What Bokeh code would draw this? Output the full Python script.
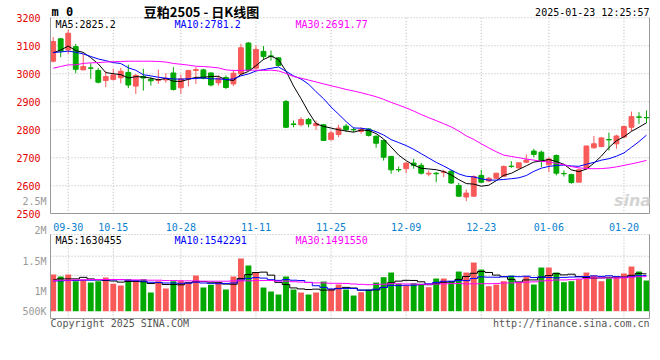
import numpy as np
import pandas as pd
from bokeh.plotting import figure
from bokeh.models import ColumnDataSource, FixedTicker, Label, Range1d, LinearAxis
from bokeh.embed import file_html
from bokeh.resources import INLINE

dates = ["09-26", "09-27", "09-30",
         "10-08", "10-09", "10-10", "10-11", "10-14", "10-15", "10-16", "10-17", "10-18",
         "10-21", "10-22", "10-23", "10-24", "10-25", "10-28", "10-29", "10-30", "10-31",
         "11-01", "11-04", "11-05", "11-06", "11-07", "11-08", "11-11", "11-12", "11-13",
         "11-14", "11-15", "11-18", "11-19", "11-20", "11-21", "11-22", "11-25", "11-26",
         "11-27", "11-28", "11-29",
         "12-02", "12-03", "12-04", "12-05", "12-06", "12-09", "12-10", "12-11", "12-12",
         "12-13", "12-16", "12-17", "12-18", "12-19", "12-20", "12-23", "12-24", "12-25",
         "12-26", "12-27", "12-30", "12-31",
         "01-02", "01-03", "01-06", "01-07", "01-08", "01-09", "01-10", "01-13", "01-14",
         "01-15", "01-16", "01-17", "01-20", "01-21", "01-22", "01-23"]

opens = [3045, 3125, 3085, 3097, 3014, 3021, 3012, 2976, 2980, 2986,
         3005, 2956, 2990, 2980, 2976, 2978, 3003, 2950, 2981, 3012,
         3014, 3003, 2968, 2987, 2964, 3000, 3110, 3020, 3080, 3064,
         3057, 2901, 2821, 2818, 2837, 2815, 2818, 2765, 2783, 2813,
         2801, 2794, 2803, 2777, 2762, 2705, 2658, 2661, 2681, 2673,
         2642, 2645, 2648, 2652, 2601, 2560, 2563, 2637, 2617, 2627,
         2634, 2670, 2664, 2684, 2724, 2720, 2675, 2708, 2644, 2640,
         2613, 2661, 2736, 2740, 2765, 2750, 2774, 2809, 2846, 2844]
highs = [3131, 3128, 3158, 3107, 3071, 3038, 3021, 3009, 3018, 3021,
         3032, 3000, 3018, 2988, 3015, 3002, 3024, 2997, 3014, 3024,
         3018, 3005, 2994, 2994, 3014, 3107, 3113, 3101, 3099, 3083,
         3059, 2907, 2833, 2845, 2843, 2833, 2821, 2797, 2818, 2821,
         2809, 2809, 2806, 2780, 2764, 2705, 2669, 2684, 2696, 2682,
         2655, 2649, 2657, 2657, 2610, 2587, 2637, 2657, 2631, 2646,
         2673, 2688, 2684, 2712, 2732, 2726, 2702, 2712, 2655, 2643,
         2661, 2744, 2778, 2774, 2790, 2782, 2815, 2865, 2863, 2869]
lows = [3041, 3059, 3071, 3002, 3014, 2982, 2966, 2952, 2976, 2966,
        2949, 2928, 2940, 2958, 2964, 2968, 2940, 2928, 2955, 2964,
        2980, 2955, 2958, 2946, 2956, 2994, 3010, 3018, 3050, 3047,
        3026, 2806, 2809, 2812, 2809, 2800, 2762, 2762, 2774, 2792,
        2792, 2786, 2776, 2736, 2690, 2643, 2649, 2645, 2661, 2640,
        2634, 2613, 2631, 2607, 2560, 2545, 2560, 2610, 2613, 2625,
        2631, 2664, 2661, 2681, 2702, 2667, 2649, 2637, 2633, 2607,
        2613, 2657, 2732, 2738, 2726, 2732, 2771, 2795, 2821, 2824]
closes = [3115, 3081, 3145, 3016, 3026, 3020, 2970, 2990, 2996, 3009,
          2960, 2994, 2985, 2975, 2979, 2984, 2944, 2982, 3012, 3015,
          2984, 2960, 2984, 2951, 3002, 3093, 3012, 3087, 3062, 3062,
          3030, 2809, 2819, 2837, 2821, 2822, 2762, 2789, 2806, 2800,
          2800, 2801, 2780, 2752, 2702, 2657, 2657, 2681, 2673, 2645,
          2645, 2643, 2650, 2610, 2563, 2574, 2633, 2613, 2627, 2645,
          2669, 2669, 2682, 2692, 2712, 2688, 2696, 2645, 2643, 2612,
          2657, 2742, 2750, 2771, 2764, 2778, 2812, 2847, 2845, 2843]
volumes = [1600500, 1513200, 1600500, 1309500, 1367700, 1251300, 1309500, 1469550, 1193100, 1120350,
           1396800, 1309500, 1396800, 814800, 1309500, 989400, 1309500, 1338600, 1251300, 1556850,
           1033050, 1149450, 1236750, 945750, 1513200, 2298900, 1993350, 1687800, 1033050, 858450,
           727500, 1513200, 945750, 814800, 727500, 814800, 1294950, 974850, 1164000, 945750,
           683850, 829350, 945750, 1251300, 1484100, 1687800, 1193100, 1120350, 1222200, 1193100,
           1047600, 1425900, 1425900, 1309500, 1731450, 1687800, 2124300, 1818750, 1091250, 1164000,
           1309500, 1556850, 1265850, 1527750, 1164000, 1906050, 1906050, 1687800, 1265850, 1309500,
           1396800, 1687800, 1556850, 1309500, 1440450, 1484100, 1644150, 1949700, 1731450, 1338600]

# moving-average values before enough history is visible
ma5_head = [3075, 3085, 3099, 3083]
ma10_head = [3076, 3078, 3081, 3077, 3071, 3062, 3053, 3047, 3040]
ma30_head = [3020, 3026, 3032, 3032, 3037, 3039, 3040, 3042, 3043, 3044,
             3045, 3045, 3045, 3045, 3044, 3042, 3037, 3034, 3031, 3027,
             3026, 3024, 3021, 3014, 3012, 3012, 3013, 3013, 3012]
vol_ma5_head = [1367700, 1411350, 1411350, 1411350]
vol_ma10_head = [1324050, 1324050, 1338600, 1338600, 1353150, 1353150, 1367700, 1367700, 1367700]
vol_ma30_head = [1338600, 1353150, 1353150, 1367700, 1367700, 1382250, 1382250, 1382250, 1382250, 1382250,
                 1367700, 1367700, 1367700, 1353150, 1353150, 1338600, 1338600, 1324050, 1324050, 1324050,
                 1309500, 1309500, 1309500, 1309500, 1324050, 1324050, 1324050, 1338600, 1338600]

tick_dates = ["09-30", "10-15", "10-28", "11-11", "11-25", "12-09", "12-23", "01-06", "01-20"]
price_ticks = [2500, 2600, 2700, 2800, 2900, 3000, 3100, 3200]
vol_grid = [1558000, 2400000]
ma_legend = ["MA5:2825.2", "MA10:2781.2", "MA30:2691.77"]
vol_legend = ["MA5:1630455", "MA10:1542291", "MA30:1491550"]
vol_axis_labels = ["2.5M", "2M", "1.5M", "1M", "500K"]

# ---------- styling / layout constants ----------
W, H = 656, 350
RED = "#f85a5a"
GREEN = "#00a800"
AX = "#999999"
GRID = "#b4b4b4"
FONT = "DejaVu Sans Mono"
MA_COLORS = ["#000000", "#0000ff", "#ff00ff"]
C0, CS = 52.7, 7.51          # page x of first candle, px per trading day
PB, PPU = 213.3, 0.28        # page y of price 2500, px per price unit
VB, VPP = 310.7, 43650.0     # page y of zero volume, volume per px

df = pd.DataFrame(dict(x=np.arange(len(dates)), open=opens, high=highs, low=lows,
                       close=closes, vol=volumes))
df["color"] = np.where(df.close >= df.open, RED, GREEN)
df["top"] = df[["open", "close"]].max(axis=1)
df["bottom"] = df[["open", "close"]].min(axis=1)


def moving(series, n, head):
    m = series.astype(float).rolling(n).mean()
    m.iloc[:n - 1] = head
    return m


df["ma5"] = moving(df.close, 5, ma5_head)
df["ma10"] = moving(df.close, 10, ma10_head)
df["ma30"] = moving(df.close, 30, ma30_head)
df["vma5"] = moving(df.vol, 5, vol_ma5_head)
df["vma10"] = moving(df.vol, 10, vol_ma10_head)
df["vma30"] = moving(df.vol, 30, vol_ma30_head)
src = ColumnDataSource(df)

tick_idx = [dates.index(d) for d in tick_dates]

xr = Range1d(-C0 / CS, (W - C0) / CS)
yr = Range1d(price_ticks[0] - (H - PB) / PPU, price_ticks[0] + PB / PPU)
vr = Range1d(-(H - VB) * VPP, VB * VPP)
x_left, x_right = (50 - C0) / CS, (649 - C0) / CS
p_lo, p_hi = price_ticks[0], price_ticks[-1]
v_lo, v_hi = -(318 - VB) * VPP, (VB - 234) * VPP

p = figure(width=W, height=H, x_range=xr, y_range=yr, output_backend="svg",
           toolbar_location=None, x_axis_location=None, y_axis_location=None,
           min_border_left=0, min_border_right=0, min_border_top=0, min_border_bottom=0)
p.extra_y_ranges = {"vol": vr}
p.outline_line_color = None
p.grid.visible = False
p.background_fill_color = "white"
p.border_fill_color = "white"


def axis(side, loc, bounds, ticks, rng="default", **kw):
    a = LinearAxis(fixed_location=loc, bounds=bounds, ticker=FixedTicker(ticks=ticks),
                   y_range_name=rng, axis_line_color=AX, major_tick_line_color=None,
                   minor_tick_line_color=None, major_label_text_font=FONT,
                   major_label_text_font_size="10px", **kw)
    p.add_layout(a, side)
    return a


# ---------- grids (dotted) ----------
gs = dict(line_color=GRID, line_dash="1 2", line_width=1)
hp = price_ticks[1:]
p.segment(x0=[x_left] * len(hp), x1=[x_right] * len(hp), y0=hp, y1=hp, **gs)
p.segment(x0=tick_idx, x1=tick_idx, y0=[p_lo] * len(tick_idx), y1=[p_hi] * len(tick_idx), **gs)
hv = vol_grid + [v_hi]
p.segment(x0=[x_left] * len(hv), x1=[x_right] * len(hv), y0=hv, y1=hv, y_range_name="vol", **gs)
p.segment(x0=tick_idx, x1=tick_idx, y0=[v_lo] * len(tick_idx), y1=[v_hi] * len(tick_idx),
          y_range_name="vol", **gs)

# ---------- axes ----------
axis("left", x_left, (p_lo, p_hi), price_ticks, major_label_text_color="#e60000",
     major_label_standoff=4)
axis("right", x_right, (p_lo, p_hi), [])
xa = axis("below", p_lo, (x_left, x_right), tick_idx, major_label_text_color="#0a7fd0",
          major_label_standoff=3)
xa.major_label_overrides = {i: dates[i] for i in tick_idx}
axis("left", x_left, (v_lo, v_hi), [], rng="vol")
axis("right", x_right, (v_lo, v_hi), [], rng="vol")
axis("below", v_lo, (x_left, x_right), [], rng="vol")

# ---------- candles ----------
p.segment(x0="x", y0="low", x1="x", y1="high", color="color", line_width=1, source=src)
p.vbar(x="x", width=0.64, top="top", bottom="bottom", fill_color="color",
       line_color="color", line_width=1, source=src)
for col, c in zip(["ma5", "ma10", "ma30"], MA_COLORS):
    p.line(x="x", y=col, color=c, line_width=1, source=src)

# ---------- volume ----------
p.vbar(x="x", width=0.78, top="vol", bottom=0, fill_color="color", line_color=None,
       source=src, y_range_name="vol")
for col, c in zip(["vma5", "vma10", "vma30"], MA_COLORS):
    p.step(x="x", y=col, color=c, line_width=1, mode="center", source=src, y_range_name="vol")


# ---------- texts ----------
def lab(px, py, text, color="#000000", align="left", size="10px", font=FONT, fstyle="normal",
        alpha=1.0):
    p.add_layout(Label(x=px, y=H - py, x_units="screen", y_units="screen", text=text,
                       text_color=color, text_align=align, text_baseline="middle",
                       text_font_size=size, text_font=font, text_font_style=fstyle,
                       text_alpha=alpha))


lab(51, 11, "m 0", size="12px", fstyle="bold")
lab(201, 11, "豆粕2505 - 日K线图", align="center", size="13px", font="Noto Sans CJK SC",
    fstyle="bold")
lab(649, 11.5, "2025-01-23 12:25:57", align="right")
for t, xs, c in zip(ma_legend, [55, 174, 295], MA_COLORS):
    lab(xs, 24, t, color=c)
for t, xs, c in zip(vol_legend, [55, 174, 295], MA_COLORS):
    lab(xs, 239.5, t, color=c)
for t, ys in zip(vol_axis_labels, [201, 230, 260.7, 290.7, 310.7]):
    lab(46, ys, t, color=AX, align="right")
lab(50, 323.3, "Copyright 2025 SINA.COM", color="#555555")
lab(649, 323.3, "http://finance.sina.com.cn", color="#555555", align="right")
lab(632, 200, "sina", color="#c8c8c8", align="center", size="16px", font="DejaVu Sans",
    fstyle="bold italic", alpha=0.8)

open("out.html", "w").write(file_html(p, INLINE))
